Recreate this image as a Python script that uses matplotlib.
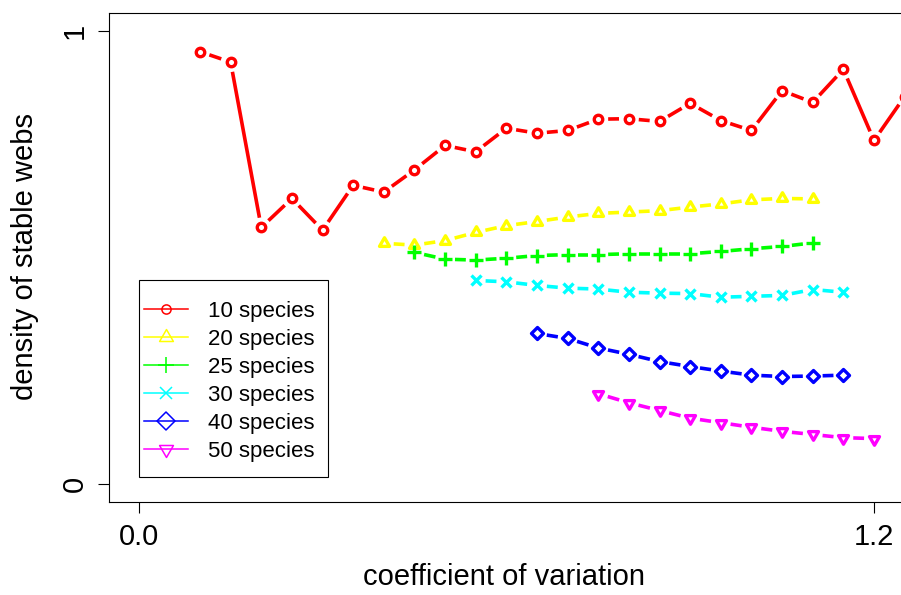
import numpy as np
import matplotlib
matplotlib.use('Agg')
import matplotlib.pyplot as plt
from matplotlib.lines import Line2D
from matplotlib.patches import Rectangle
from matplotlib.markers import MarkerStyle
from matplotlib.path import Path

plt.rcParams['font.family'] = ['Liberation Sans', 'DejaVu Sans']

# data (coefficient of variation -> density of stable webs)
cv_10 = [0.10, 0.15, 0.20, 0.25, 0.30, 0.35, 0.40, 0.45, 0.50, 0.55, 0.60, 0.65,
         0.70, 0.75, 0.80, 0.85, 0.90, 0.95, 1.00, 1.05, 1.10, 1.15, 1.20, 1.25]
dens_10 = [0.954, 0.931, 0.566, 0.630, 0.560, 0.659, 0.644, 0.693, 0.747, 0.733, 0.785, 0.774,
           0.780, 0.805, 0.806, 0.800, 0.840, 0.802, 0.780, 0.868, 0.842, 0.915, 0.758, 0.855]

cv_20 = [0.40, 0.45, 0.50, 0.55, 0.60, 0.65, 0.70, 0.75, 0.80, 0.85, 0.90, 0.95, 1.00, 1.05, 1.10]
dens_20 = [0.531, 0.527, 0.537, 0.555, 0.570, 0.579, 0.589, 0.597, 0.600, 0.603, 0.611, 0.618,
           0.627, 0.630, 0.629]

cv_25 = [0.45, 0.50, 0.55, 0.60, 0.65, 0.70, 0.75, 0.80, 0.85, 0.90, 0.95, 1.00, 1.05, 1.10]
dens_25 = [0.511, 0.496, 0.494, 0.498, 0.504, 0.506, 0.506, 0.508, 0.508, 0.508, 0.513, 0.519,
           0.524, 0.532]

cv_30 = [0.55, 0.60, 0.65, 0.70, 0.75, 0.80, 0.85, 0.90, 0.95, 1.00, 1.05, 1.10, 1.15]
dens_30 = [0.449, 0.446, 0.438, 0.432, 0.430, 0.423, 0.421, 0.420, 0.412, 0.414, 0.416, 0.429, 0.423]

cv_40 = [0.65, 0.70, 0.75, 0.80, 0.85, 0.90, 0.95, 1.00, 1.05, 1.10, 1.15]
dens_40 = [0.332, 0.321, 0.300, 0.286, 0.270, 0.259, 0.249, 0.240, 0.237, 0.238, 0.240]

cv_50 = [0.75, 0.80, 0.85, 0.90, 0.95, 1.00, 1.05, 1.10, 1.15, 1.20]
dens_50 = [0.199, 0.179, 0.162, 0.145, 0.135, 0.125, 0.116, 0.109, 0.102, 0.100]

labels = ['10 species', '20 species', '25 species', '30 species', '40 species', '50 species']
colors = ['#FF0000', '#FFFF00', '#00FF00', '#00FFFF', '#0000FF', '#FF00FF']

W, H = 901, 595
GAP = 9.9      # px left open round each point (R type="b")
LW = 2.6
MEW = 2.4

# R style open triangles (centroid on the point)
tri_up = Path([(0, 1.5551), (1.3468, -0.7776), (-1.3468, -0.7776), (0, 1.5551)], closed=True)
tri_dn = Path([(0, -1.5551), (1.3468, 0.7776), (-1.3468, 0.7776), (0, -1.5551)], closed=True)

plot_marks = [(MarkerStyle('o'), 6.1),
              (MarkerStyle(tri_up, joinstyle='round'), 8.3),
              (MarkerStyle('+', capstyle='butt'), 10.0),
              (MarkerStyle('x', capstyle='butt'), 6.8),
              (MarkerStyle('D', joinstyle='round'), 6.0),
              (MarkerStyle(tri_dn, joinstyle='round'), 8.3)]
leg_marks = [(MarkerStyle('o'), 6.6),
             (MarkerStyle(tri_up, joinstyle='round'), 11.5),
             (MarkerStyle('+', capstyle='butt'), 11.5),
             (MarkerStyle('x', capstyle='butt'), 9.0),
             (MarkerStyle('D', joinstyle='round'), 8.7),
             (MarkerStyle(tri_dn, joinstyle='round'), 11.5)]


def draw_b(ax, x, y, color, ls, mk, ms):
    # lines with a gap round each point, like R's type="b"
    xy = ax.transData.transform(np.column_stack([x, y]))
    inv = ax.transData.inverted()
    for p0, p1 in zip(xy[:-1], xy[1:]):
        d = p1 - p0
        L = np.hypot(d[0], d[1])
        if L <= 2 * GAP:
            continue
        u = d / L
        a = inv.transform(p0 + u * GAP)
        b = inv.transform(p1 - u * GAP)
        ax.plot([a[0], b[0]], [a[1], b[1]], color=color, lw=LW, linestyle=ls,
                solid_capstyle='butt', dash_capstyle='butt')
    ax.plot(x, y, linestyle='none', marker=mk, ms=ms, mec=color, mfc='none', mew=MEW)


fig = plt.figure(figsize=(W / 100, H / 100), dpi=100)
ax = fig.add_axes([109.3 / W, (H - 502) / H, 794.1 / W, (502 - 12.7) / H])
ax.set_xlim(-0.048, 1.248)
ax.set_ylim(-0.04, 1.04)

series = [(cv_10, dens_10), (cv_20, dens_20), (cv_25, dens_25),
          (cv_30, dens_30), (cv_40, dens_40), (cv_50, dens_50)]
for i, (xs, ys) in enumerate(series):
    ls = '-' if i == 0 else (0, (3.3, 3.3))
    draw_b(ax, xs, ys, colors[i], ls, plot_marks[i][0], plot_marks[i][1])

ax.set_xticks([0, 1.2])
ax.set_xticklabels(['0.0', '1.2'])
ax.set_yticks([0, 1])
ax.set_yticklabels(['0', '1'], rotation=90, va='center')
ax.tick_params(axis='both', length=8, width=0.8, direction='out', labelsize=21, color='black')
ax.tick_params(axis='x', pad=7)
ax.tick_params(axis='y', pad=6.5)
for s in ax.spines.values():
    s.set_linewidth(0.8)
    s.set_color('black')

fig.text(504 / W, 1 - 585 / H, 'coefficient of variation', fontsize=21,
         ha='center', va='baseline')
fig.text(33.3 / W, 1 - 257 / H, 'density of stable webs', fontsize=21,
         ha='center', va='baseline', rotation=90, rotation_mode='anchor')

# legend box, laid out the way R does it
fig.add_artist(Rectangle((138.7 / W, 1 - 476.7 / H), (328 - 138.7) / W, (476.7 - 280) / H,
                         transform=fig.transFigure, fill=False, edgecolor='black', lw=0.8))
for i, lab in enumerate(labels):
    yy = 1 - (309.2 + 28 * i) / H
    fig.add_artist(Line2D([144 / W, 188 / W], [yy, yy], transform=fig.transFigure,
                          color=colors[i], lw=1.1))
    fig.add_artist(Line2D([166 / W], [yy], transform=fig.transFigure, linestyle='none',
                          marker=leg_marks[i][0], ms=leg_marks[i][1], mec=colors[i],
                          mfc='none', mew=1.1))
    fig.text(208 / W, 1 - (309.2 + 28 * i + 7.6) / H, lab, fontsize=16, va='baseline')

fig.savefig('out.png', dpi=100)
